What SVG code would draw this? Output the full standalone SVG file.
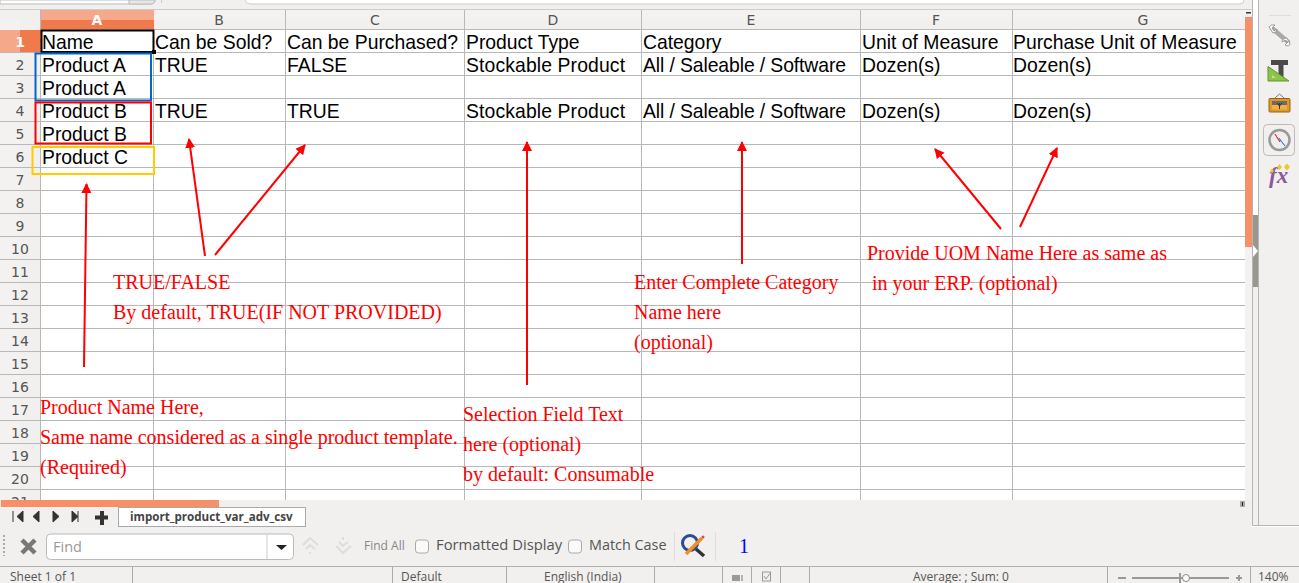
<svg xmlns="http://www.w3.org/2000/svg" width="1299" height="583" viewBox="0 0 1299 583">
<style>
.c{font-family:"Liberation Sans",Arial,sans-serif;font-size:19.35px;fill:#000}
.r{font-family:"Liberation Serif","Times New Roman",serif;font-size:20px;fill:#f00}
.h{font-family:"DejaVu Sans",sans-serif;font-size:14px;fill:#555;text-anchor:middle}
.u{font-family:"Open Sans","Noto Sans",sans-serif;font-size:12px;fill:#555}
.g{stroke:#b8b8b8;stroke-width:1;fill:none}
.a{stroke:#f00;stroke-width:2;fill:none;marker-end:url(#m)}
</style>
<defs><marker id="m" markerUnits="userSpaceOnUse" markerWidth="12" markerHeight="12" refX="9" refY="5" orient="auto"><path d="M0 0L10 5L0 10Z" fill="#f00"/></marker></defs>
<rect width="1299" height="583" fill="#f1f0ee"/>
<rect x="41" y="29" width="1205" height="471" fill="#fff"/>
<g id="topbar">
<path d="M0 4H150Q155 4 155 0V0H0Z" fill="#fff" stroke="#bbb"/>
<path d="M129 0V4H150Q155 4 155 0Z" fill="#e8e7e5" stroke="#bbb"/>
<path d="M161.500 0V3M245 0Q246 4 252 4H1240Q1244 4 1244 0" fill="#fff" stroke="#ccc"/>
<path d="M0 9.500H1252" stroke="#ccc"/>
<rect x="41" y="10" width="1204" height="19" fill="#f1f0ee"/>
<rect x="41" y="10" width="1204" height="10" fill="#f3f2f0"/>
<rect x="0" y="10" width="41" height="19" fill="#f1f0ee"/>
<rect x="0" y="19" width="20" height="480" fill="#f3f2f0"/>
</g>
<g id="grid">
<path class="g" d="M41 29.500H1245M41 52.500H1245M41 75.500H1245M41 98.500H1245M41 121.500H1245M41 144.500H1245M41 167.500H1245M41 190.500H1245M41 213.500H1245M41 236.500H1245M41 259.500H1245M41 282.500H1245M41 305.500H1245M41 328.500H1245M41 351.500H1245M41 374.500H1245M41 397.500H1245M41 420.500H1245M41 443.500H1245M41 466.500H1245M41 489.500H1245"/>
<path class="g" d="M40.500 10V500M153.500 10V500M285.500 10V500M464.500 10V500M641.500 10V500M860.500 10V500M1012.500 10V500"/>
<path class="g" d="M0 52.500H41M0 75.500H41M0 98.500H41M0 121.500H41M0 144.500H41M0 167.500H41M0 190.500H41M0 213.500H41M0 236.500H41M0 259.500H41M0 282.500H41M0 305.500H41M0 328.500H41M0 351.500H41M0 374.500H41M0 397.500H41M0 420.500H41M0 443.500H41M0 466.500H41M0 489.500H41"/>
</g>
<g id="headers">
<rect x="41" y="10" width="113" height="10" fill="#f6a98a"/><rect x="41" y="20" width="113" height="9.500" fill="#f07a4c"/>
<rect x="0" y="30" width="20" height="22" fill="#f6a98a"/><rect x="20" y="30" width="21" height="22" fill="#f07a4c"/>
<text class="h" x="97" y="25" style="fill:#fff;font-weight:bold">A</text>
<text class="h" x="219" y="25">B</text><text class="h" x="375" y="25">C</text><text class="h" x="553" y="25">D</text><text class="h" x="751" y="25">E</text><text class="h" x="936" y="25">F</text><text class="h" x="1143" y="25">G</text>
<text class="h" x="20" y="47" style="fill:#fff;font-weight:bold">1</text>
<text class="h" x="20" y="70">2</text><text class="h" x="20" y="93">3</text><text class="h" x="20" y="116">4</text><text class="h" x="20" y="139">5</text><text class="h" x="20" y="162">6</text><text class="h" x="20" y="185">7</text><text class="h" x="20" y="208">8</text><text class="h" x="20" y="231">9</text><text class="h" x="20" y="254">10</text><text class="h" x="20" y="277">11</text><text class="h" x="20" y="300">12</text><text class="h" x="20" y="323">13</text><text class="h" x="20" y="346">14</text><text class="h" x="20" y="369">15</text><text class="h" x="20" y="392">16</text><text class="h" x="20" y="415">17</text><text class="h" x="20" y="438">18</text><text class="h" x="20" y="461">19</text><text class="h" x="20" y="484">20</text><text class="h" x="20" y="507">21</text>
</g>
<g id="cells">
<rect x="41.500" y="30.500" width="112" height="21.500" fill="none" stroke="#000" stroke-width="2"/><rect x="152" y="50" width="4" height="4"/>
<text class="c" x="42" y="48.500">Name</text><text class="c" x="155" y="48.500">Can be Sold?</text><text class="c" x="287" y="48.500">Can be Purchased?</text><text class="c" x="466" y="48.500">Product Type</text><text class="c" x="643" y="48.500">Category</text><text class="c" x="862" y="48.500">Unit of Measure</text><text class="c" x="1013" y="48.500">Purchase Unit of Measure</text>
<text class="c" x="42" y="71.500">Product A</text><text class="c" x="155" y="71.500">TRUE</text><text class="c" x="287" y="71.500">FALSE</text><text class="c" x="466" y="71.500" textLength="159">Stockable Product</text><text class="c" x="643" y="71.500" textLength="203">All / Saleable / Software</text><text class="c" x="862" y="71.500">Dozen(s)</text><text class="c" x="1013" y="71.500">Dozen(s)</text>
<text class="c" x="42" y="94.500">Product A</text>
<text class="c" x="42" y="117.500">Product B</text><text class="c" x="155" y="117.500">TRUE</text><text class="c" x="287" y="117.500">TRUE</text><text class="c" x="466" y="117.500" textLength="159">Stockable Product</text><text class="c" x="643" y="117.500" textLength="203">All / Saleable / Software</text><text class="c" x="862" y="117.500">Dozen(s)</text><text class="c" x="1013" y="117.500">Dozen(s)</text>
<text class="c" x="42" y="140.500">Product B</text>
<text class="c" x="42" y="163.500">Product C</text>
</g>
<g id="product-a"><rect x="35.500" y="53.500" width="115.500" height="47" fill="none" stroke="#0066cc" stroke-width="2"/></g>
<g id="product-b"><rect x="35.500" y="102.500" width="115.500" height="41" fill="none" stroke="#f00" stroke-width="2"/></g>
<g id="product-c"><rect x="32.500" y="147" width="121.500" height="27" fill="none" stroke="#ffcc00" stroke-width="2"/></g>
<g id="connectors">
<line class="a" x1="84" y1="367" x2="86.500" y2="184"/>
<line class="a" x1="205" y1="256" x2="189" y2="139"/>
<line class="a" x1="215" y1="255" x2="305" y2="145"/>
<line class="a" x1="527" y1="385" x2="527" y2="142"/>
<line class="a" x1="742" y1="264" x2="742" y2="142"/>
<line class="a" x1="1001" y1="229" x2="935" y2="149"/>
<line class="a" x1="1020" y1="227" x2="1057" y2="148"/>
</g>
<g id="note-name"><text class="r" x="40" y="414">Product Name Here,</text><text class="r" x="40" y="444">Same name considered as a single product template.</text><text class="r" x="40" y="474">(Required)</text></g>
<g id="note-bool"><text class="r" x="113" y="289">TRUE/FALSE</text><text class="r" x="113" y="319">By default, TRUE(IF NOT PROVIDED)</text></g>
<g id="note-type"><text class="r" x="463" y="421">Selection Field Text</text><text class="r" x="463" y="451">here (optional)</text><text class="r" x="463" y="481">by default: Consumable</text></g>
<g id="note-category"><text class="r" x="634" y="289">Enter Complete Category</text><text class="r" x="634" y="319">Name here</text><text class="r" x="634" y="349">(optional)</text></g>
<g id="note-uom"><text class="r" x="867" y="260">Provide UOM Name Here as same as</text><text class="r" x="872" y="290">in your ERP. (optional)</text></g>
<g id="chrome">
<rect x="0" y="500" width="1299" height="83" fill="#f1f0ee"/>
<rect x="1" y="500" width="218" height="7" fill="#f79066"/>
<rect x="1240" y="501" width="5" height="6" fill="#aaa"/><rect x="1242" y="502" width="1" height="4" fill="#222"/>
<rect x="1245" y="10" width="7" height="490" fill="#f3f2f0"/>
<rect x="1245" y="17" width="7" height="230" fill="#f79066"/>
<rect x="1246" y="12" width="5" height="1.500" fill="#333"/>
<rect x="1253" y="0" width="5" height="215" fill="#fff"/>
<rect x="1252" y="215" width="7" height="72" fill="#9a9791"/>
<path d="M1253 245L1258 251L1253 257Z" fill="#fff"/>
<path d="M1252.500 0V525.500H1299M1258.500 0V525" stroke="#b5b5b5" fill="none"/>
<path d="M1252 526.500H1299" stroke="#fff"/>
<g id="sidebar">
<path d="M1269 15.500H1291" stroke="#ddd"/>
<path d="M1273 29L1288 42" stroke="#a8a8a8" stroke-width="4.500" stroke-linecap="round"/>
<path d="M1269 27Q1271 24 1275 25L1272 28L1274 31L1277 29Q1277 33 1273 33ZM1290 44Q1289 47 1285 45L1288 42L1285 40L1282 42Q1282 38 1287 38Z" fill="#fff" stroke="#999"/>
<path d="M1271 62.500H1288M1281 62V80" stroke="#4a4a4a" stroke-width="5"/>
<path d="M1268 66.500V81H1289Z" fill="#8ec24a" stroke="#5a9a1e"/>
<path d="M1272 75V78H1276Z" fill="#c9e39c"/>
<rect x="1269" y="98.500" width="21" height="13.500" rx="1" fill="#d99a2b" stroke="#a06010"/>
<path d="M1275 98L1279.500 94L1284 98" fill="none" stroke="#777"/>
<rect x="1272" y="101" width="15" height="4" fill="#6f6a6a"/><rect x="1272" y="105" width="15" height="4.500" fill="#f0b048"/>
<path d="M1279.500 109V103M1277 103L1279.500 106L1282 103" stroke="#333" fill="none"/>
<rect x="1263.500" y="124.500" width="31" height="31" rx="4" fill="none" stroke="#bbb"/>
<circle cx="1279.500" cy="140" r="10" fill="#eee" stroke="#999" stroke-width="2.500"/>
<path d="M1275 134L1280 142L1278 139Z" fill="#e33" stroke="#e33"/><path d="M1279 138L1285 146L1281 141Z" fill="#48c" stroke="#48c"/>
<text x="1269" y="183" style="font-family:'Liberation Serif',serif;font-style:italic;font-weight:bold;font-size:23px;fill:#8a5a9a">fx</text>
<path d="M1270 171l2-2.500l2 2.500l-2 2ZM1277 167l2.500-3l2.500 3l-2.500 3ZM1284 167l3-3.500l3 3.500l-3 3.500Z" fill="#e8c92e"/>
</g>
<path d="M13 511V522M17 516.500L23 511V522ZM39 511L33 516.500L39 522ZM53 511L59 516.500L53 522ZM72 511L78 516.500L72 522ZM78 511V522" fill="#333" stroke="#333"/>
<path d="M102 511V525M95 517.500H108" stroke="#333" stroke-width="4"/>
<rect x="118.500" y="507.500" width="187" height="19" fill="#fff" stroke="#aaa"/>
<text x="130" y="521" style="font-family:'Open Sans',sans-serif;font-size:11.6px;font-weight:bold;fill:#444">import_product_var_adv_csv</text>
<path d="M4 535V556" stroke="#aaa" stroke-width="2" stroke-dasharray="2 2"/>
<path d="M22 540L35 553M35 540L22 553" stroke="#777" stroke-width="4.500"/>
<rect x="46.500" y="534" width="247" height="25.500" rx="4" fill="#fff" stroke="#bbb"/>
<path d="M267 534.500V559" stroke="#ccc"/>
<path d="M276 545H287L281.500 550Z" fill="#222"/>
<text class="u" x="53" y="552" style="font-size:14.500px;fill:#999">Find</text>
<path d="M303 545L310 538L318 545M306 549L310 545L315 549M310 552V554" stroke="#ddd" fill="none" stroke-width="2"/>
<path d="M336 546L343 553L351 546M339 542L343 546L348 542M343 537V540" stroke="#ddd" fill="none" stroke-width="2"/>
<text class="u" x="364" y="550" style="fill:#888">Find All</text>
<rect x="415.500" y="540" width="13" height="13" rx="3" fill="#fafafa" stroke="#aaa"/>
<text class="u" x="436" y="550" style="font-size:14.800px">Formatted Display</text>
<rect x="568.500" y="540" width="13" height="13" rx="3" fill="#fafafa" stroke="#aaa"/>
<text class="u" x="589" y="550" style="font-size:14.400px">Match Case</text>
<path d="M674.500 532V561M715.500 532V561" stroke="#ddd"/>
<circle cx="690" cy="543" r="7.500" fill="none" stroke="#2b4a9b" stroke-width="3"/><path d="M696 549L704 556" stroke="#333" stroke-width="3.500"/><path d="M686 554L702 538" stroke="#f09020" stroke-width="3.500"/><circle cx="703" cy="537" r="1.500" fill="#e44"/>
<text x="739" y="553" style="font-family:'Liberation Serif',serif;font-size:20px;fill:#00f">1</text>
<rect x="0" y="566" width="1299" height="17" fill="#f1f0ee"/>
<path d="M0 566.500H1299" stroke="#b0b0b0"/>
<path d="M132.500 567V583M392.500 567V583M506.500 567V583M654.500 567V583M722.500 567V583M751.500 567V583M780.500 567V583M809.500 567V583M1107.500 567V583M1250.500 567V583" stroke="#aaa"/>
<text class="u" x="10" y="581">Sheet 1 of 1</text>
<text class="u" x="401" y="581">Default</text>
<text class="u" x="544" y="581">English (India)</text>
<text class="u" x="913" y="581">Average: ; Sum: 0</text>
<text class="u" x="1258" y="581">140%</text>
<rect x="732" y="575" width="8" height="6" fill="#999"/><path d="M742 575V581" stroke="#777"/>
<rect x="762.500" y="572" width="8" height="9" fill="none" stroke="#999"/><path d="M764 576L766 579L771 572" stroke="#999" fill="none"/>
<path d="M1118 578H1126M1132 578H1229M1236 578H1242M1239 575V581M1180 573V583" stroke="#999" stroke-width="2" fill="none"/>
<circle cx="1186" cy="578" r="3.500" fill="#fff" stroke="#888"/>
</g>
</svg>
